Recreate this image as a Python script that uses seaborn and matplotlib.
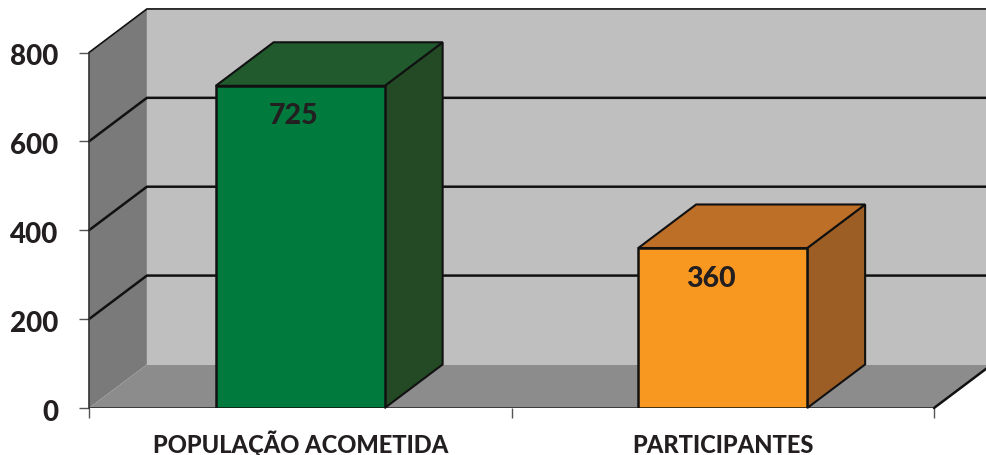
import matplotlib.pyplot as plt
import pandas as pd
import seaborn as sns
from matplotlib.patches import Polygon
from matplotlib.transforms import ScaledTranslation

categories = ["POPULAÇÃO ACOMETIDA", "PARTICIPANTES"]
values = [725, 360]
y_ticks = [0, 200, 400, 600, 800]

front_colors = ["#007A3D", "#F99820"]
top_colors = ["#215A2D", "#BD6E27"]
side_colors = ["#234A24", "#9C5E25"]
label_offsets = [(-7, -29), (-12, -30)]

# depth of the fake 3d box, in data units
DEPTH_X = 0.137
DEPTH_Y = 98
Y_MAX = 800

sns.set_theme(style="white")
plt.rcParams["font.family"] = ["Lato", "DejaVu Sans"]
plt.rcParams["font.weight"] = 900

fig = plt.figure(figsize=(9.86, 4.56), dpi=100)
ax = fig.add_axes([89 / 986, 47 / 456, 845 / 986, 355.5 / 456])

df = pd.DataFrame({"categoria": categories, "valor": values})
sns.barplot(
    data=df,
    x="categoria",
    y="valor",
    hue="categoria",
    palette=front_colors,
    width=0.4,
    saturation=1,
    edgecolor="#111111",
    linewidth=1.8,
    legend=False,
    ax=ax,
    zorder=5,
)
ax.set_xlim(-0.5, 1.5)
ax.set_ylim(0, Y_MAX)
left, right = ax.get_xlim()


def add_face(points, color, zorder, edge="none", lw=0):
    ax.add_patch(
        Polygon(
            points,
            closed=True,
            facecolor=color,
            edgecolor=edge,
            linewidth=lw,
            zorder=zorder,
            clip_on=False,
        )
    )


# walls and floor
add_face(
    [
        (left + DEPTH_X, DEPTH_Y),
        (right + DEPTH_X, DEPTH_Y),
        (right + DEPTH_X, Y_MAX + DEPTH_Y),
        (left + DEPTH_X, Y_MAX + DEPTH_Y),
    ],
    "#BFBFBF",
    1,
)
add_face(
    [
        (left, 0),
        (left + DEPTH_X, DEPTH_Y),
        (left + DEPTH_X, Y_MAX + DEPTH_Y),
        (left, Y_MAX),
    ],
    "#7A7A7A",
    1.2,
)
add_face(
    [
        (left, 0),
        (right, 0),
        (right + DEPTH_X, DEPTH_Y),
        (left + DEPTH_X, DEPTH_Y),
    ],
    "#8C8C8C",
    1.4,
)

# grid lines run along the left wall and then the back wall
for tick in y_ticks[1:]:
    lw = 1.2 if tick == Y_MAX else 1.8
    ax.plot(
        [left, left + DEPTH_X, right + DEPTH_X],
        [tick, tick + DEPTH_Y, tick + DEPTH_Y],
        color="#111111",
        lw=lw,
        zorder=2,
        clip_on=False,
    )
ax.plot(
    [right, right + DEPTH_X],
    [0, DEPTH_Y],
    color="#111111",
    lw=1.8,
    zorder=2,
    clip_on=False,
)
ax.axhline(0, color="#222222", lw=1.8, zorder=3)

# bar sides and tops built from the bars seaborn drew
for i, bar in enumerate(ax.patches[: len(values)]):
    x0 = bar.get_x()
    x1 = x0 + bar.get_width()
    h = bar.get_height()
    add_face(
        [(x1, 0), (x1 + DEPTH_X, DEPTH_Y), (x1 + DEPTH_X, h + DEPTH_Y), (x1, h)],
        side_colors[i],
        4,
        "#111111",
        1.5,
    )
    add_face(
        [(x0, h), (x1, h), (x1 + DEPTH_X, h + DEPTH_Y), (x0 + DEPTH_X, h + DEPTH_Y)],
        top_colors[i],
        4,
        "#111111",
        1.5,
    )
    # offsets are pixels at dpi 100
    ax.annotate(
        str(values[i]),
        xy=(i, h),
        xytext=(label_offsets[i][0] * 0.72, label_offsets[i][1] * 0.72),
        textcoords="offset points",
        ha="center",
        va="center",
        fontsize=20.5,
        color="#231F20",
        zorder=6,
    )

sns.despine(ax=ax, top=True, right=True, bottom=True)
ax.spines["left"].set_color("#333333")
ax.spines["left"].set_linewidth(1.2)
ax.spines["left"].set_zorder(3)

ax.set_xlabel("")
ax.set_ylabel("")
ax.set_yticks(y_ticks)
ax.set_xticks(range(len(categories)))
ax.set_xticklabels(categories)
ax.set_xticks([left, 0.5, right], minor=True)
ax.tick_params(axis="y", left=True, length=7, width=1, color="#555555", pad=15,
               labelsize=20, labelcolor="#231F20")
ax.tick_params(axis="x", which="major", bottom=False, length=0, pad=31.5, labelsize=17,
               labelcolor="#231F20")
ax.tick_params(axis="x", which="minor", bottom=True, length=7, width=1, color="#555555")
nudge = ScaledTranslation(0, -0.015, fig.dpi_scale_trans)
for label in ax.get_yticklabels():
    label.set_verticalalignment("center_baseline")
    label.set_transform(label.get_transform() + nudge)
for label in ax.get_xticklabels():
    label.set_verticalalignment("baseline")

fig.savefig("out.png", dpi=100)
